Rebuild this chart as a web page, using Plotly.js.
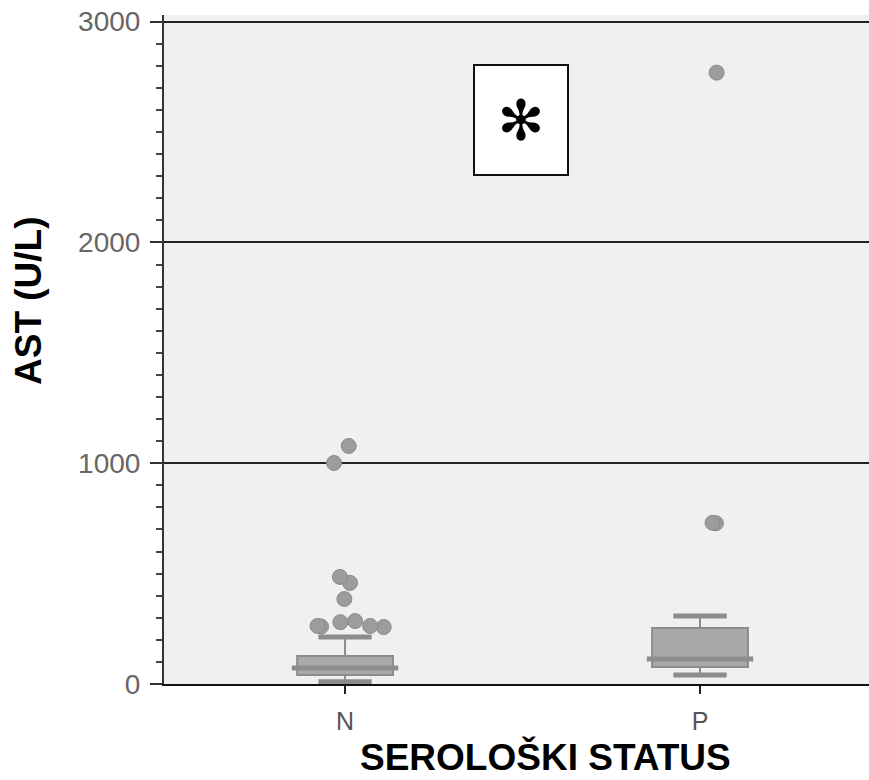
<!DOCTYPE html>
<html>
<head>
<meta charset="utf-8">
<script src="https://cdn.plot.ly/plotly-3.0.1.min.js"></script>
<style>html,body{margin:0;padding:0;background:#fff;}#chart{width:869px;height:780px;}</style>
</head>
<body>
<div id="chart"></div>
<script>
// Categories and box statistics (AST, U/L)
var categories = ['N', 'P'];
var q1Values = [41, 77];
var medianValues = [72, 113];
var q3Values = [127, 254];
var lowerFenceValues = [10, 41];
var upperFenceValues = [213, 308];
// Outliers per category
var outliersN = [1078, 1001, 485, 458, 385, 285, 280, 263, 263, 260, 258];
var outliersP = [2769, 730, 728];
var tickValues = [0, 1000, 2000, 3000];
var tickLabels = ['0', '1000', '2000', '3000'];
var xTitle = 'SEROLOŠKI STATUS';
var yTitle = 'AST (U/L)';

var boxLine = '#8c8c8c';
var boxFill = '#a9a9a9';

function flatBox(vals, w, lw) {
  return {
    type: 'box', x: categories,
    q1: vals, median: vals, q3: vals, lowerfence: vals, upperfence: vals,
    width: w, line: {color: boxLine, width: lw}, fillcolor: boxLine,
    boxpoints: false, hoverinfo: 'skip', showlegend: false
  };
}

var pointMarker = {color: '#9c9c9c', size: 15, line: {color: '#8a8a8a', width: 1}};

var traces = [
  {
    type: 'box', x: categories,
    q1: q1Values, median: medianValues, q3: q3Values,
    lowerfence: lowerFenceValues, upperfence: upperFenceValues,
    width: 0.27, whiskerwidth: 0, boxpoints: false,
    line: {color: boxLine, width: 2}, fillcolor: boxFill,
    showlegend: false
  },
  flatBox(medianValues, 0.3, 5),
  flatBox(upperFenceValues, 0.15, 5),
  flatBox(lowerFenceValues, 0.15, 5),
  {
    type: 'box', x: outliersN.map(function(){return 'N';}), y: outliersN,
    boxpoints: 'all', jitter: 1, pointpos: 0, width: 0.42,
    line: {color: 'rgba(0,0,0,0)', width: 0}, fillcolor: 'rgba(0,0,0,0)',
    marker: pointMarker, showlegend: false
  },
  {
    type: 'box', x: outliersP.map(function(){return 'P';}), y: outliersP,
    boxpoints: 'all', jitter: 0.06, pointpos: 0.3, width: 0.27,
    line: {color: 'rgba(0,0,0,0)', width: 0}, fillcolor: 'rgba(0,0,0,0)',
    marker: pointMarker, showlegend: false
  }
];

var titleFont = {size: 37, color: '#000', family: 'Liberation Sans, Arial, sans-serif', weight: 'bold'};

var layout = {
  width: 869, height: 780,
  margin: {l: 164, r: 0, t: 15, b: 96},
  paper_bgcolor: '#ffffff', plot_bgcolor: '#f0f0f0',
  boxmode: 'overlay',
  font: {family: 'Liberation Sans, Arial, sans-serif'},
  xaxis: {
    type: 'category', categoryorder: 'array', categoryarray: categories,
    range: [-0.51, 1.476],
    showline: true, linecolor: '#111', linewidth: 2, mirror: false,
    ticks: 'outside', ticklen: 8, tickwidth: 2, tickcolor: '#222',
    tickfont: {size: 25, color: '#555'}, ticklabelstandoff: 6,
    showgrid: false, zeroline: false
  },
  yaxis: {
    range: [0, 3030],
    tickvals: tickValues, ticktext: tickLabels,
    showline: true, linecolor: '#333', linewidth: 2,
    ticks: 'outside', ticklen: 12, tickwidth: 2, tickcolor: '#333',
    tickfont: {size: 28, color: '#666'}, ticklabelstandoff: 4,
    minor: {dtick: 100, ticks: 'outside', ticklen: 6, tickwidth: 2, tickcolor: '#444', showgrid: false},
    showgrid: true, gridcolor: '#222', gridwidth: 2,
    zeroline: false
  },
  annotations: [
    {
      xref: 'paper', yref: 'paper', x: 0.506, y: 0.8435,
      xanchor: 'center', yanchor: 'middle',
      text: '✻', showarrow: false,
      font: {size: 56, color: '#000', family: 'DejaVu Sans'},
      width: 90, height: 106, valign: 'middle', align: 'center',
      bgcolor: '#ffffff', bordercolor: '#111', borderwidth: 2, borderpad: 1
    },
    {
      xref: 'paper', yref: 'paper', x: 0.5418, y: -0.1432,
      xanchor: 'center', yanchor: 'bottom',
      text: xTitle, showarrow: false, font: titleFont
    },
    {
      xref: 'paper', yref: 'paper', x: -0.1915, y: 0.574,
      xanchor: 'center', yanchor: 'middle', textangle: -90,
      text: yTitle, showarrow: false, font: titleFont
    }
  ]
};

Plotly.newPlot('chart', traces, layout, {displayModeBar: false, staticPlot: true});
</script>
</body>
</html>
